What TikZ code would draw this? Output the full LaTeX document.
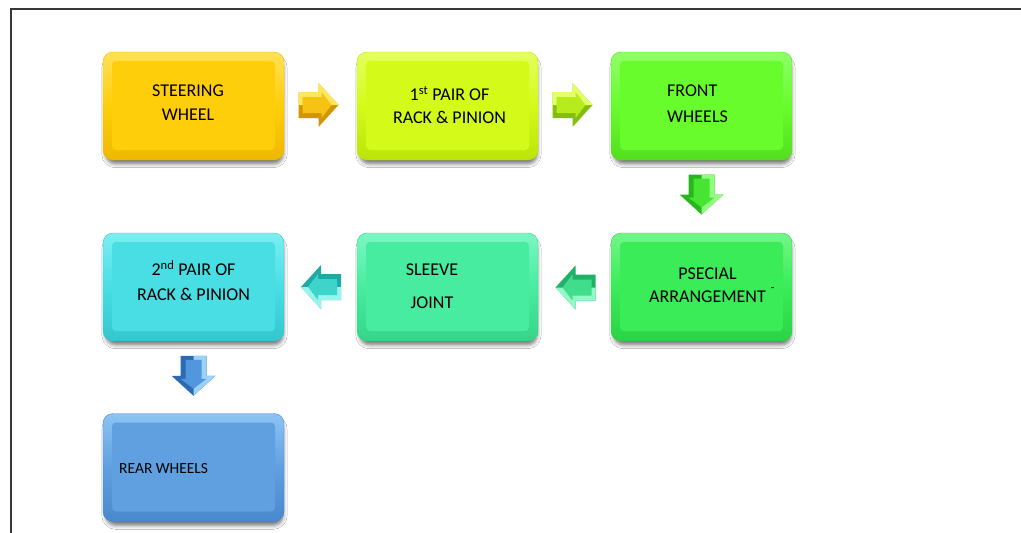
\documentclass[tikz,border=0pt]{standalone}
\usepackage{fontspec}
\setmainfont{Carlito}
\usetikzlibrary{calc,shadows.blur}
\definecolor{swM}{RGB}{255,206,10}\definecolor{swL}{RGB}{255,225,85}\definecolor{swD}{RGB}{238,184,0}
\definecolor{rpM}{RGB}{212,250,25}\definecolor{rpL}{RGB}{228,255,95}\definecolor{rpD}{RGB}{188,228,10}
\definecolor{fwM}{RGB}{104,252,45}\definecolor{fwL}{RGB}{145,255,105}\definecolor{fwD}{RGB}{84,222,32}
\definecolor{psM}{RGB}{58,236,88}\definecolor{psL}{RGB}{115,246,135}\definecolor{psD}{RGB}{44,210,70}
\definecolor{sjM}{RGB}{72,236,160}\definecolor{sjL}{RGB}{125,246,195}\definecolor{sjD}{RGB}{54,212,138}
\definecolor{rqM}{RGB}{72,222,228}\definecolor{rqL}{RGB}{125,238,242}\definecolor{rqD}{RGB}{52,198,206}
\definecolor{rwM}{RGB}{96,160,225}\definecolor{rwL}{RGB}{140,195,242}\definecolor{rwD}{RGB}{72,136,204}
\definecolor{a1M}{RGB}{246,194,20}\definecolor{a1L}{RGB}{255,230,95}\definecolor{a1D}{RGB}{210,150,0}
\definecolor{a2M}{RGB}{182,236,30}\definecolor{a2L}{RGB}{228,255,105}\definecolor{a2D}{RGB}{132,190,12}
\definecolor{a3M}{RGB}{72,228,52}\definecolor{a3L}{RGB}{145,255,125}\definecolor{a3D}{RGB}{40,182,30}
\definecolor{a4M}{RGB}{64,222,140}\definecolor{a4L}{RGB}{145,250,198}\definecolor{a4D}{RGB}{34,176,104}
\definecolor{a5M}{RGB}{62,212,204}\definecolor{a5L}{RGB}{150,246,238}\definecolor{a5D}{RGB}{32,168,164}
\definecolor{a6M}{RGB}{82,150,222}\definecolor{a6L}{RGB}{155,210,250}\definecolor{a6D}{RGB}{44,106,178}
\tikzset{
  box/.style={rectangle, rounded corners=10pt, minimum width=181pt, minimum height=108pt,
    inner sep=0pt, outer sep=0pt, line width=0.4pt,
    blur shadow={shadow xshift=1pt, shadow yshift=-5pt, shadow opacity=55, shadow blur radius=4pt, shadow scale=0.98}},
  lbl/.style={inner sep=0pt, align=center, text=black},
  frameline/.style={line width=1.6pt, draw=black!78},
}
\newcommand\bevelbox[5]{%
  \node[box, top color=#4, bottom color=#5, middle color=#3, draw=#5] (#1) at (#2) {};
  \fill[#3, rounded corners=4pt] ($(#1.north west)+(9,9)$) rectangle ($(#1.south east)+(-9,-10)$);
}
\newcommand\blockarrow[6]{%
  \begin{scope}[shift={(#2)}, rotate=#3]
    \fill[#6] (-20,-13)--(0,-13)--(0,-22)--(20,0)--(0,22)--(0,13)--(-20,13)--cycle;
    \fill[#5] (-20,-13)--(0,-13)--(0,-22)--(20,0)--(-20,0)--cycle;
    \fill[#4] (-16,-8)--(3,-8)--(3,-13)--(13,0)--(3,13)--(3,8)--(-16,8)--cycle;
    \coordinate (#1) at (0,0);
  \end{scope}}
\begin{document}
\begin{tikzpicture}[x=1pt, y=-1pt]
\useasboundingbox (0,0) rectangle (1021,533);
\fill[white] (0,0) rectangle (1021,533);
\draw[frameline] (11,533) -- (11,9) -- (1021,9);

\bevelbox{sw}{193.5,106}{swM}{swL}{swD}
\bevelbox{rpa}{447.5,106}{rpM}{rpL}{rpD}
\bevelbox{fw}{701.5,106}{fwM}{fwL}{fwD}
\bevelbox{ps}{701.5,287}{psM}{psL}{psD}
\bevelbox{sj}{447.5,287}{sjM}{sjL}{sjD}
\bevelbox{rpb}{193.5,287}{rqM}{rqL}{rqD}
\bevelbox{rw}{193.5,467.5}{rwM}{rwL}{rwD}

\node[lbl, font=\fontsize{18}{24}\selectfont] (tsw) at (188,103) {STEERING\\WHEEL};
\node[lbl, font=\fontsize{18}{23}\selectfont] (trpa) at (449.5,105) {1\textsuperscript{st} PAIR OF\\RACK \& PINION};
\node[lbl, align=left, anchor=west, font=\fontsize{18}{26}\selectfont] (tfw) at (667,104) {FRONT\\WHEELS};
\node[lbl, font=\fontsize{18}{23}\selectfont] (tps) at (707.5,285) {PSECIAL\\ARRANGEMENT\rlap{\hspace{5pt}\raisebox{11pt}{\fontsize{12}{12}\selectfont -}}};
\node[lbl, font=\fontsize{18}{33}\selectfont] (tsj) at (432,286) {SLEEVE\\JOINT};
\node[lbl, font=\fontsize{18}{25}\selectfont] (trpb) at (193.5,281) {2\textsuperscript{nd} PAIR OF\\RACK \& PINION};
\node[lbl, anchor=base west, font=\fontsize{15.5}{18}\selectfont] (trw) at (119,473) {REAR WHEELS};

\blockarrow{a1}{$(sw.east)!0.5!(rpa.west)+(-2,-1)$}{0}{a1M}{a1L}{a1D}
\blockarrow{a2}{$(rpa.east)!0.5!(fw.west)+(-2,-1)$}{0}{a2M}{a2L}{a2D}
\blockarrow{a3}{$(fw.south)!0.5!(ps.north)+(0,-2)$}{-90}{a3M}{a3L}{a3D}
\blockarrow{a4}{$(ps.west)!0.5!(sj.east)+(1,0.5)$}{180}{a4M}{a4L}{a4D}
\blockarrow{a5}{$(sj.west)!0.5!(rpb.east)+(0.5,0)$}{180}{a5M}{a5L}{a5D}
\blockarrow{a6}{$(rpb.south)!0.5!(rw.north)+(0,-1.5)$}{-90}{a6M}{a6L}{a6D}
\end{tikzpicture}
\end{document}
